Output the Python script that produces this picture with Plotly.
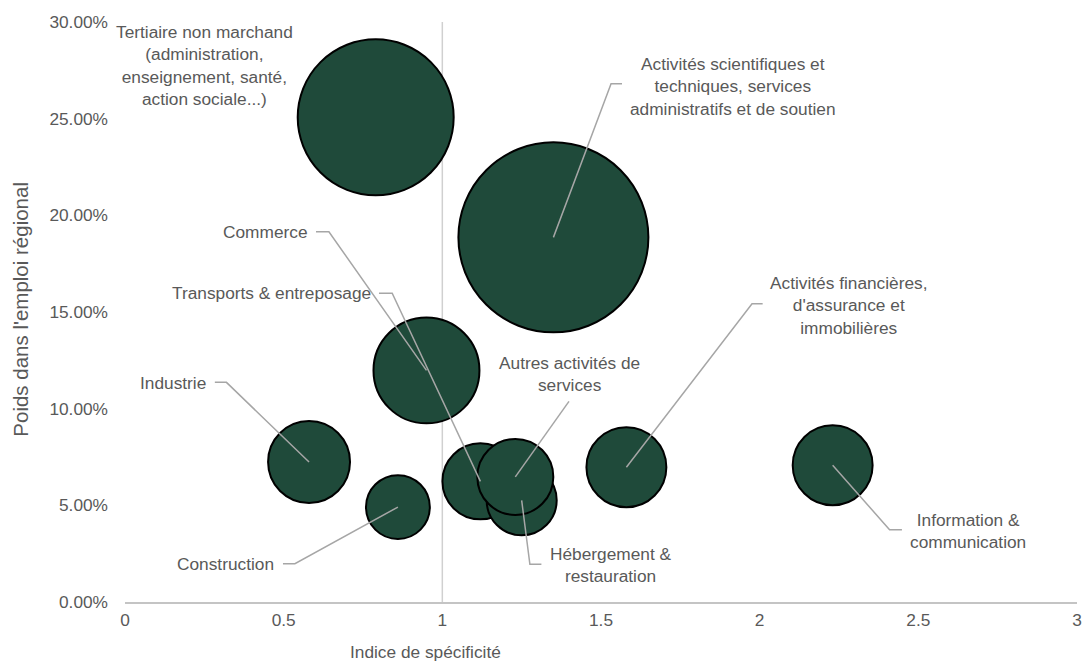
import plotly.graph_objects as go

# Secteurs : indice de spécificité, poids dans l'emploi régional, taille relative des bulles
secteurs = [
    "Tertiaire non marchand<br>(administration,<br>enseignement, santé,<br>action sociale...)",
    "Activités scientifiques et<br>techniques, services<br>administratifs et de soutien",
    "Commerce",
    "Industrie",
    "Construction",
    "Transports & entreposage",
    "Hébergement &<br>restauration",
    "Autres activités de<br>services",
    "Activités financières,<br>d'assurance et<br>immobilières",
    "Information &<br>communication",
]
indice_specificite = [0.79, 1.35, 0.95, 0.58, 0.86, 1.12, 1.25, 1.23, 1.58, 2.23]
poids_emploi = [0.2507, 0.1886, 0.1198, 0.0724, 0.0491, 0.0624, 0.0526, 0.0647, 0.0697, 0.0707]
taille = [67.4, 100, 31.1, 18.6, 11.3, 16.0, 13.6, 16.0, 17.7, 17.7]

# Position des étiquettes (centre du texte) et des traits de rappel (coude, départ)
etiq_x = [0.2517, 1.9166, 0.4414, 0.1524, 0.3181, 0.4608, 1.5307, 1.4022, 2.2830, 2.6561]
etiq_y = [0.2775, 0.2667, 0.1912, 0.1134, 0.0195, 0.1597, 0.0191, 0.1179, 0.1535, 0.0368]
coude_x = [None, 1.5317, 0.6426, 0.3197, 0.5354, 0.8420, 1.2759, None, 1.9759, 2.4094]
depart_x = [None, 1.5661, 0.6019, 0.2831, 0.4978, 0.8003, 1.3122, 1.3991, 2.0094, 2.4483]
depart_y = [None, 0.2681, 0.1915, 0.1136, 0.0198, 0.1597, 0.0195, 0.1038, 0.1543, 0.0374]

VERT = "#1f4a3a"
GRIS_TEXTE = "#595959"
POLICE = "Liberation Sans, Arial, sans-serif"

fig = go.Figure()

fig.add_trace(go.Scatter(
    x=indice_specificite,
    y=poids_emploi,
    mode="markers",
    marker=dict(
        size=taille,
        sizemode="area",
        sizeref=2 * max(taille) / (190 ** 2),
        color=VERT,
        opacity=1,
        line=dict(color="black", width=2),
    ),
    cliponaxis=False,
    hoverinfo="skip",
    showlegend=False,
))

# traits de rappel
lx, ly = [], []
for i in range(len(secteurs)):
    if depart_x[i] is None:
        continue
    lx.append(indice_specificite[i])
    ly.append(poids_emploi[i])
    if coude_x[i] is not None:
        lx.append(coude_x[i])
        ly.append(depart_y[i])
    lx += [depart_x[i], None]
    ly += [depart_y[i], None]

fig.add_trace(go.Scatter(
    x=lx, y=ly, mode="lines",
    line=dict(color="#a6a6a6", width=1.5),
    cliponaxis=False, hoverinfo="skip", showlegend=False,
))

for i, nom in enumerate(secteurs):
    fig.add_annotation(
        x=etiq_x[i], y=etiq_y[i], xref="x", yref="y",
        text=nom, showarrow=False, align="center",
        xanchor="center", yanchor="middle",
        font=dict(family=POLICE, size=17.3, color=GRIS_TEXTE),
    )

# titres des axes
fig.add_annotation(
    x=0.3156, y=-0.0862, xref="paper", yref="paper",
    text="Indice de spécificité", showarrow=False,
    xanchor="center", yanchor="middle",
    font=dict(family=POLICE, size=17.3, color=GRIS_TEXTE),
)
fig.add_annotation(
    x=-0.1097, y=0.505, xref="paper", yref="paper",
    text="Poids dans l'emploi régional", showarrow=False, textangle=-90,
    xanchor="center", yanchor="middle",
    font=dict(family=POLICE, size=20.5, color=GRIS_TEXTE),
)

# axe vertical croisant en x = 1
fig.add_shape(
    type="line", xref="x", yref="paper", x0=1, x1=1, y0=0, y1=1,
    line=dict(color="#d0d0d0", width=1.5), layer="below",
)

fig.update_layout(
    width=1088, height=664,
    margin=dict(l=125, r=6, t=22, b=62),
    paper_bgcolor="white", plot_bgcolor="white",
    font=dict(family=POLICE, size=17.3, color=GRIS_TEXTE),
    xaxis=dict(
        range=[0, 3], dtick=0.5, showgrid=False, zeroline=False,
        showline=True, linecolor="#c4c4c4", linewidth=2,
        ticks="", ticklabelstandoff=1,
    ),
    yaxis=dict(
        range=[0, 0.30], dtick=0.05, tickformat=".2%", showgrid=False,
        zeroline=False, showline=False, ticks="", ticklabelstandoff=16,
    ),
)

fig.write_html(
    "out.html",
    config={"displayModeBar": False},
    post_script="document.body.style.margin='0';",
)
